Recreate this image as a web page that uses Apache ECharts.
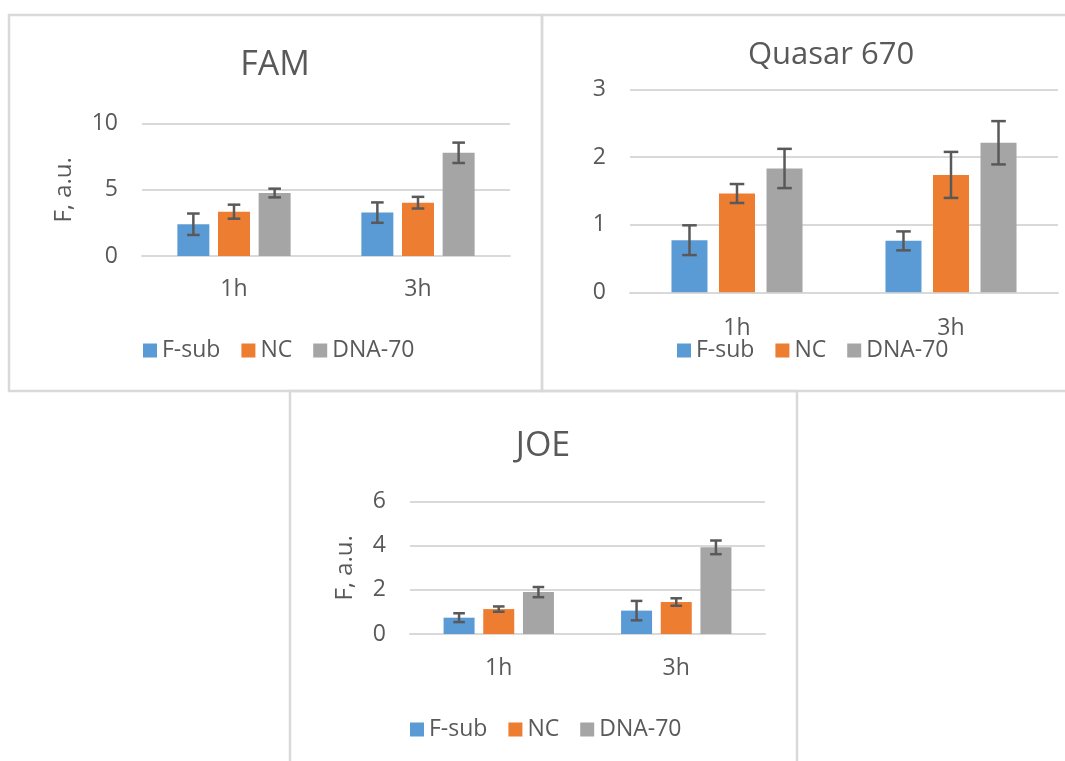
<!DOCTYPE html>
<html><head><meta charset="utf-8">
<script src="https://cdn.jsdelivr.net/npm/echarts@6/dist/echarts.min.js"></script>
<style>html,body{margin:0;padding:0;background:#fff}#c{width:1065px;height:761px}</style>
</head><body><div id="c"></div>
<script>
// ---- data ----
const categories = ['1h', '3h'];
const seriesNames = ['F-sub', 'NC', 'DNA-70'];
const panelTitles = ['FAM', 'Quasar 670', 'JOE'];
const yAxisName = 'F, a.u.';

const famFsub = [2.4, 3.28];
const famNC = [3.35, 4.03];
const famDNA = [4.76, 7.8];
const famFsubErr = [0.81, 0.77];
const famNCErr = [0.53, 0.44];
const famDNAErr = [0.33, 0.77];

const quasarFsub = [0.77, 0.76];
const quasarNC = [1.46, 1.735];
const quasarDNA = [1.83, 2.21];
const quasarFsubErr = [0.22, 0.14];
const quasarNCErr = [0.14, 0.34];
const quasarDNAErr = [0.29, 0.32];

const joeFsub = [0.74, 1.06];
const joeNC = [1.13, 1.45];
const joeDNA = [1.9, 3.93];
const joeFsubErr = [0.2, 0.44];
const joeNCErr = [0.12, 0.17];
const joeDNAErr = [0.23, 0.31];

const famTicks = {min: 0, max: 10, interval: 5};
const quasarTicks = {min: 0, max: 3, interval: 1};
const joeTicks = {min: 0, max: 6, interval: 2};

// ---- styling / layout ----
const FONT = "'Open Sans', 'Noto Sans', sans-serif";
const TXT = '#595959';
const GRIDC = '#D9D9D9';
const colors = ['#5B9BD5', '#ED7D31', '#A5A5A5'];
const LBL = 23;

const panels = [
  {title: panelTitles[0], titleX: 270, titleY: 43, titleSize: 34,
   grid: {left: 142, top: 123.7, width: 368, height: 132.3},
   ticks: famTicks, yName: yAxisName, nameGap: 66, xMargin: 22,
   values: [famFsub, famNC, famDNA], errs: [famFsubErr, famNCErr, famDNAErr],
   barW: 32, gap: 0.27, cap: 6.3, legendLeft: 138, legendTop: 334},
  {title: panelTitles[1], titleX: 826, titleY: 35, titleSize: 31,
   grid: {left: 630, top: 89.3, width: 428, height: 203},
   ticks: quasarTicks, yName: '', nameGap: 0, xMargin: 25,
   values: [quasarFsub, quasarNC, quasarDNA], errs: [quasarFsubErr, quasarNCErr, quasarDNAErr],
   barW: 36, gap: 0.32, cap: 7.3, legendLeft: 672, legendTop: 334},
  {title: panelTitles[2], titleX: 538, titleY: 424, titleSize: 34,
   grid: {left: 410, top: 501.7, width: 355, height: 132.3},
   ticks: joeTicks, yName: yAxisName, nameGap: 53, xMargin: 23,
   values: [joeFsub, joeNC, joeDNA], errs: [joeFsubErr, joeNCErr, joeDNAErr],
   barW: 31, gap: 0.28, cap: 5.8, legendLeft: 405, legendTop: 713}
];

const title = [], grid = [], xAxis = [], yAxis = [], legend = [], series = [];

panels.forEach((p, g) => {
  title.push({
    text: p.title, left: p.titleX, top: p.titleY, textAlign: 'center',
    textStyle: {fontFamily: FONT, fontSize: p.titleSize, fontWeight: 'normal', color: TXT}
  });
  grid.push(Object.assign({containLabel: false}, p.grid));
  xAxis.push({
    type: 'category', gridIndex: g, data: categories,
    axisLine: {show: true, lineStyle: {color: GRIDC, width: 2}},
    axisTick: {show: false},
    axisLabel: {fontFamily: FONT, fontSize: LBL, color: TXT, margin: p.xMargin}
  });
  yAxis.push({
    type: 'value', gridIndex: g, min: p.ticks.min, max: p.ticks.max, interval: p.ticks.interval,
    name: p.yName, nameLocation: 'middle', nameGap: p.nameGap,
    nameTextStyle: {fontFamily: FONT, fontSize: 24, color: TXT},
    axisLine: {show: false}, axisTick: {show: false},
    axisLabel: {fontFamily: FONT, fontSize: LBL, color: TXT, margin: 24},
    splitLine: {lineStyle: {color: GRIDC, width: 2}}
  });
  legend.push({
    data: seriesNames, left: p.legendLeft, top: p.legendTop,
    icon: 'rect', itemWidth: 14, itemHeight: 14, itemGap: 21,
    textStyle: {fontFamily: FONT, fontSize: LBL, color: TXT, lineHeight: 23},
    selectedMode: false
  });
  seriesNames.forEach((name, s) => {
    series.push({
      type: 'bar', name: name, xAxisIndex: g, yAxisIndex: g,
      data: p.values[s], barWidth: p.barW, barGap: (p.gap * 100) + '%',
      itemStyle: {color: colors[s]}, silent: true, animation: false
    });
  });
  seriesNames.forEach((name, s) => {
    const barW = p.barW, gap = p.gap, cap = p.cap;
    series.push({
      type: 'custom', name: 'err-' + g + '-' + name, xAxisIndex: g, yAxisIndex: g,
      data: p.values[s].map((v, i) => [i, v, p.errs[s][i]]),
      encode: {x: 0, y: 1}, z: 10, silent: true, animation: false,
      renderItem: function (params, api) {
        const ci = api.value(0), v = api.value(1), e = api.value(2);
        const c = api.coord([ci, v]);
        const total = 3 * barW + 2 * gap * barW;
        const off = -total / 2 + s * barW * (1 + gap) + barW / 2;
        const x = c[0] + off;
        const yT = api.coord([ci, v + e])[1];
        const yB = api.coord([ci, v - e])[1];
        const st = {stroke: '#595959', lineWidth: 2.5};
        return {type: 'group', children: [
          {type: 'line', shape: {x1: x, y1: yT, x2: x, y2: yB}, style: st},
          {type: 'line', shape: {x1: x - cap, y1: yT, x2: x + cap, y2: yT}, style: st},
          {type: 'line', shape: {x1: x - cap, y1: yB, x2: x + cap, y2: yB}, style: st}
        ]};
      }
    });
  });
});

const borderStyle = {fill: 'none', stroke: GRIDC, lineWidth: 2.5};
const option = {
  backgroundColor: '#fff',
  animation: false,
  title, grid, xAxis, yAxis, legend, series,
  graphic: [
    {type: 'rect', shape: {x: 9, y: 15, width: 533, height: 376}, style: borderStyle, z: -1, silent: true},
    {type: 'rect', shape: {x: 542, y: 15, width: 540, height: 376}, style: borderStyle, z: -1, silent: true},
    {type: 'rect', shape: {x: 290, y: 391, width: 507, height: 390}, style: borderStyle, z: -1, silent: true}
  ]
};
const chart = echarts.init(document.getElementById('c'), null, {renderer: 'canvas'});
chart.setOption(option);
</script>
</body></html>
